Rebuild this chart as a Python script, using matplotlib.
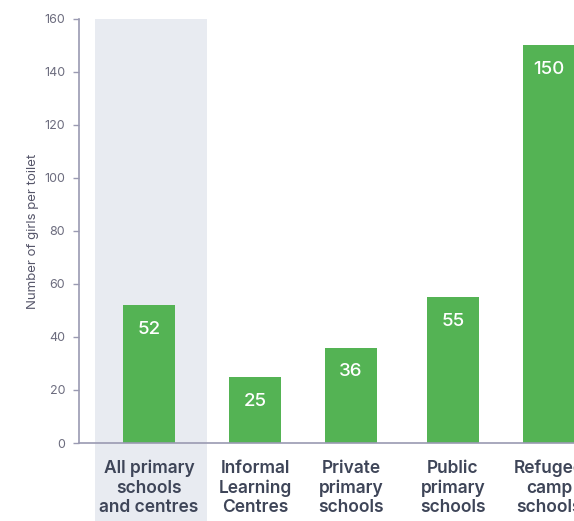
import matplotlib.pyplot as plt

categories = ["All primary\nschools\nand centres", "Informal\nLearning\nCentres",
              "Private\nprimary\nschools", "Public\nprimary\nschools",
              "Refugee\ncamp\nschools"]
girls_per_toilet = [52, 25, 36, 55, 150]

# category centres (the first one sits a bit apart, inside the highlight band)
xpos = [0, 1.06, 2.02, 3.04, 4.0]

GREEN = "#54B354"
AXIS = "#9A9AB2"
TICK_TXT = "#6C6C7E"
CAT_TXT = "#3E4558"

plt.rcParams["font.family"] = ["Inter", "DejaVu Sans"]

fig = plt.figure(figsize=(5.74, 5.21), dpi=100)
ax = fig.add_axes([79 / 574, 1 - 443 / 521, 495 / 574, 424 / 521])

# light band behind the "all schools" category, running down through its label
ax.axvspan(-0.54, 0.58, ymin=-0.19, ymax=1.0, color="#E8EBF1", lw=0,
           zorder=0, clip_on=False)

ax.bar(xpos, girls_per_toilet, width=0.52, color=GREEN, zorder=2)

for x, v in zip(xpos, girls_per_toilet):
    ax.annotate(str(v), (x, v), xytext=(0, -17.5), textcoords="offset points",
                ha="center", va="center", color="white", fontsize=13.5,
                fontweight="medium", zorder=3)

ax.set_xlim(-0.70, 4.25)
ax.set_ylim(0, 160)
ax.set_yticks(range(0, 161, 20))

ax.set_xticks(xpos)
ax.set_xticklabels(categories, fontsize=12.5, color=CAT_TXT, fontweight="semibold",
                   linespacing=1.18)
ax.tick_params(axis="x", length=0, pad=12)
ax.tick_params(axis="y", length=4, width=1, color=AXIS, labelcolor=TICK_TXT,
               labelsize=9, pad=6)

for side in ["top", "right"]:
    ax.spines[side].set_visible(False)
for side in ["left", "bottom"]:
    ax.spines[side].set_color(AXIS)
    ax.spines[side].set_linewidth(1.2)

ax.set_ylabel("Number of girls per toilet", fontsize=9.5, color="#56566A")
ax.yaxis.set_label_coords(-40 / 495, 0.5)

fig.savefig("out.png", dpi=100, facecolor="white")
